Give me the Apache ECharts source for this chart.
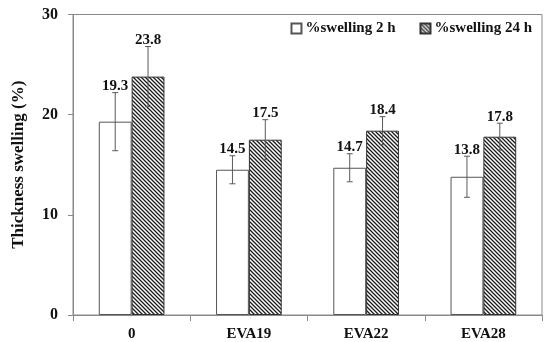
<!DOCTYPE html>
<html>
<head>
<meta charset="utf-8">
<script src="https://cdn.jsdelivr.net/npm/echarts@6/dist/echarts.min.js"></script>
<style>
html,body{margin:0;padding:0;background:#fff;}
#chart{width:545px;height:342px;}
</style>
</head>
<body>
<div id="chart"></div>
<script>
var categories = ['0', 'EVA19', 'EVA22', 'EVA28'];
var swelling2h = [19.3, 14.5, 14.7, 13.8];
var swelling24h = [23.8, 17.5, 18.4, 17.8];
var err2h = [2.9, 1.4, 1.4, 2.05];
var err24h = [3.0, 2.0, 1.4, 1.35];
var seriesNames = ['%swelling 2 h', '%swelling 24 h'];
var yTicks = [0, 10, 20, 30];

var FONT = "'Liberation Serif', 'Times New Roman', serif";
var GAP = 0.44;

function makeHatch() {
  var c = document.createElement('canvas');
  c.width = 4; c.height = 4;
  var ctx = c.getContext('2d');
  ctx.fillStyle = '#ffffff';
  ctx.fillRect(0, 0, 4, 4);
  ctx.strokeStyle = '#1a1a1a';
  ctx.lineWidth = 1.3;
  ctx.beginPath();
  ctx.moveTo(-1, -1); ctx.lineTo(5, 5);
  ctx.moveTo(-1, 3); ctx.lineTo(1, 5);
  ctx.moveTo(3, -1); ctx.lineTo(5, 1);
  ctx.stroke();
  return c;
}
var hatch = makeHatch();

function errData(vals, errs) {
  return vals.map(function (v, i) { return [i, v, errs[i]]; });
}

function errRender(sign) {
  return function (params, api) {
    var idx = api.value(0), v = api.value(1), e = api.value(2);
    var band = api.size([1, 0])[0];
    var bw = band * (1 - GAP) / 2;
    var c = api.coord([idx, v]);
    var x = c[0] + sign * bw / 2;
    var top = api.coord([idx, v + e])[1];
    var bot = api.coord([idx, v - e])[1];
    var st = { stroke: '#5a5a5a', lineWidth: 1 };
    return {
      type: 'group',
      children: [
        { type: 'line', shape: { x1: x, y1: top, x2: x, y2: bot }, style: st },
        { type: 'line', shape: { x1: x - 3, y1: top, x2: x + 3, y2: top }, style: st },
        { type: 'line', shape: { x1: x - 3, y1: bot, x2: x + 3, y2: bot }, style: st },
        { type: 'text', x: x, y: top + 1, style: {
            text: v.toFixed(1), fill: '#111111', font: 'bold 15px ' + FONT,
            align: 'center', verticalAlign: 'bottom' } }
      ]
    };
  };
}

var chart = echarts.init(document.getElementById('chart'));
chart.setOption({
  animation: false,
  backgroundColor: '#fff',
  grid: { left: 73, right: 3, top: 14.5, bottom: 27, show: true, borderColor: '#8a8a8a', borderWidth: 1 },
  legend: {
    right: 8, top: 16, itemWidth: 10, itemHeight: 10, itemGap: 24,
    icon: 'rect',
    textStyle: { fontFamily: FONT, fontWeight: 'bold', fontSize: 15, color: '#111111', padding: [0, 0, 0, -1] },
    data: seriesNames
  },
  xAxis: {
    type: 'category', data: categories,
    axisLine: { lineStyle: { color: '#8a8a8a' } },
    axisTick: { show: true, length: 6, lineStyle: { color: '#8a8a8a' } },
    axisLabel: { fontFamily: FONT, fontWeight: 'bold', fontSize: 15, color: '#111111', margin: 12 }
  },
  yAxis: {
    type: 'value', min: 0, max: 30, interval: 10,
    name: 'Thickness swelling (%)', nameLocation: 'middle', nameGap: 46,
    nameTextStyle: { fontFamily: FONT, fontWeight: 'bold', fontSize: 17, color: '#111111' },
    axisLine: { show: true, lineStyle: { color: '#8a8a8a' } },
    axisTick: { show: true, length: 5, lineStyle: { color: '#8a8a8a' } },
    splitLine: { show: false },
    axisLabel: { fontFamily: FONT, fontWeight: 'bold', fontSize: 16, color: '#111111', margin: 15,
      formatter: function (v) { return yTicks.indexOf(v) >= 0 ? String(v) : ''; } }
  },
  series: [
    { name: seriesNames[0], type: 'bar', data: swelling2h, barGap: '0%', barCategoryGap: (GAP * 100) + '%',
      itemStyle: { color: '#ffffff', borderColor: '#555555', borderWidth: 1 } },
    { name: seriesNames[1], type: 'bar', data: swelling24h, barGap: '0%', barCategoryGap: (GAP * 100) + '%',
      itemStyle: { color: { image: hatch, repeat: 'repeat' }, borderColor: '#333333', borderWidth: 1 } },
    { type: 'custom', data: errData(swelling2h, err2h), renderItem: errRender(-1), z: 5,
      encode: { x: 0, y: 1 } },
    { type: 'custom', data: errData(swelling24h, err24h), renderItem: errRender(1), z: 5,
      encode: { x: 0, y: 1 } }
  ]
});
</script>
</body>
</html>
